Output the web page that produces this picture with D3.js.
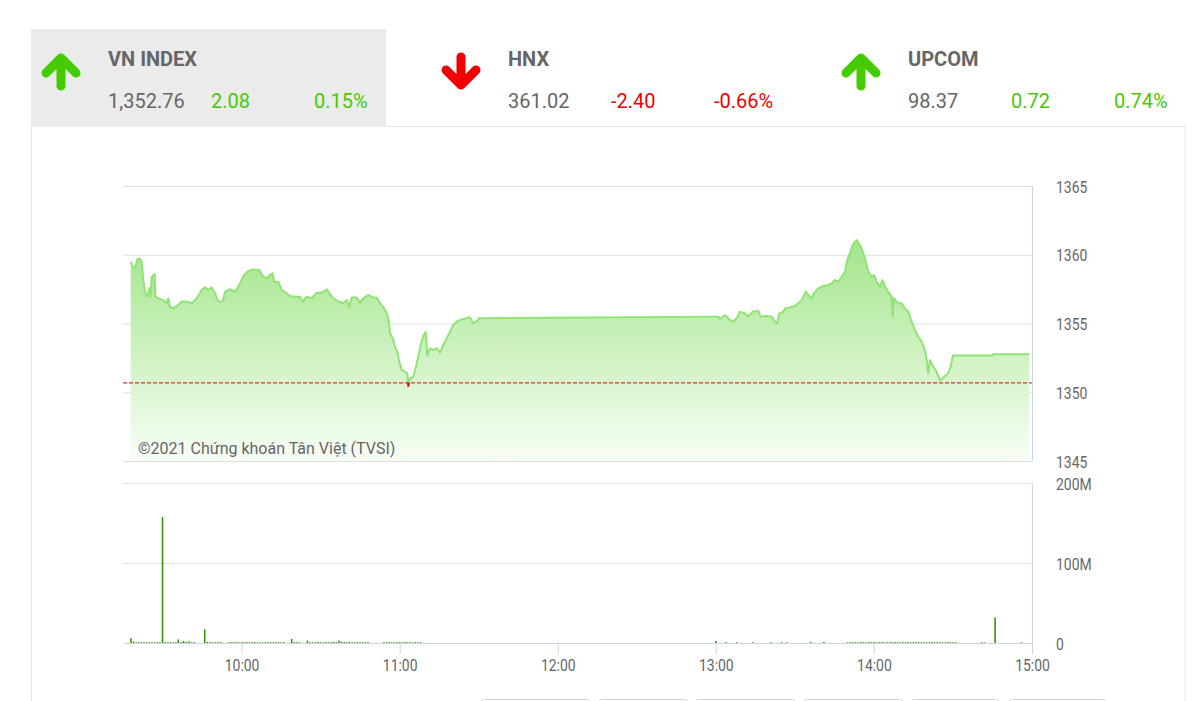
<!DOCTYPE html>
<html><head><meta charset="utf-8">
<script src="https://cdn.jsdelivr.net/npm/d3@7"></script>
<style>
html,body{margin:0;padding:0;background:#fff;}
svg{display:block;font-family:Roboto,"Noto Sans",sans-serif;}
</style></head><body>
<svg id="c" width="1195" height="701"></svg>
<script>
// ---------------- DATA ----------------
const indexNames = ["VN INDEX", "HNX", "UPCOM"];
const indexValues = ["1,352.76", "361.02", "98.37"];
const indexChanges = ["2.08", "-2.40", "0.72"];
const indexPercents = ["0.15%", "-0.66%", "0.74%"];
const indexDirections = ["up", "down", "up"];

const refPrice = 1350.68;
const priceTicks = [1345, 1350, 1355, 1360, 1365];
const volTicks = [0, 100, 200];
const volTickLabels = ["0", "100M", "200M"];
const timeTicks = ["10:00:00", "11:00:00", "12:00:00", "13:00:00", "14:00:00", "15:00:00"];
const watermark = "©2021 Chứng khoán Tân Việt (TVSI)";
const rangeButtons = ["1D", "1W", "1M", "3M", "6M", "1Y"];

const priceTimes = [
"09:17:55","09:18:41","09:19:33","09:20:26","09:21:11","09:22:06","09:22:42","09:23:21","09:24:13","09:24:59",
"09:25:31","09:25:53","09:27:02","09:27:15","09:28:24","09:30:18","09:31:35","09:32:11","09:32:50","09:34:05",
"09:35:59","09:37:17","09:39:10","09:41:04","09:42:58","09:44:52","09:46:07","09:47:22","09:48:40","09:49:55",
"09:51:10","09:52:50","09:53:43","09:55:37","09:57:31","09:58:46","10:00:40","10:02:33","10:04:27","10:06:44",
"10:08:01","10:09:32","10:10:47","10:11:49","10:12:18","10:13:56","10:15:14","10:17:08","10:18:23","10:20:17",
"10:22:10","10:23:12","10:24:43","10:26:37","10:28:31","10:30:25","10:32:19","10:33:50","10:34:49","10:36:43",
"10:38:23","10:39:54","10:40:53","10:41:48","10:43:41","10:44:57","10:46:12","10:48:05","10:49:59","10:51:17",
"10:52:32","10:53:47","10:55:05","10:55:50","10:56:20","10:57:21","10:58:14","10:59:06","10:59:52","11:00:46",
"11:02:01","11:02:54","11:03:17","11:03:55","11:05:10","11:06:12","11:07:04","11:07:59","11:08:58","11:09:53",
"11:10:29","11:11:31","11:12:46","11:14:03","11:15:18","11:16:34","11:17:51","11:19:06","11:20:21","11:21:38",
"11:23:32","11:25:26","11:26:41","11:27:57","11:29:28","11:30:00","13:00:00","13:00:55","13:01:34","13:03:28",
"13:05:22","13:06:37","13:07:55","13:09:10","13:11:04","13:12:19","13:13:59","13:16:07","13:17:01","13:19:18",
"13:21:11","13:22:26","13:23:19","13:24:05","13:25:35","13:26:14","13:28:08","13:30:02","13:31:17","13:32:35",
"13:34:13","13:35:05","13:36:22","13:37:14","13:38:53","13:40:46","13:42:40","13:43:58","13:45:13","13:46:28",
"13:47:46","13:49:01","13:49:53","13:50:54","13:51:56","13:52:48","13:53:27","13:54:26","13:55:20","13:56:13",
"13:57:14","13:57:51","13:59:08","14:00:01","14:01:02","14:02:17","14:03:19","14:04:11","14:05:26","14:06:44",
"14:07:07","14:07:36","14:09:14","14:10:31","14:11:46","14:13:02","14:14:19","14:15:34","14:16:49","14:18:07",
"14:19:22","14:20:01","14:20:37","14:21:16","14:22:31","14:23:48","14:25:04","14:26:05","14:26:57","14:28:13",
"14:29:07","14:30:00","14:45:00","14:45:14","14:59:00"];
const priceValues = [
1359.50,1359.13,1359.00,1359.67,1359.74,1359.50,1358.16,1357.30,1356.95,1357.56,
1356.95,1358.40,1358.60,1356.95,1356.83,1356.70,1356.47,1356.83,1356.20,1356.10,
1356.35,1356.60,1356.60,1356.47,1356.83,1357.44,1357.63,1357.44,1357.63,1357.20,
1356.60,1356.60,1357.31,1357.49,1357.31,1357.68,1358.45,1358.82,1358.94,1358.89,
1358.45,1358.29,1358.53,1358.65,1358.04,1358.04,1357.44,1357.20,1357.00,1356.95,
1356.95,1356.60,1356.95,1356.83,1357.24,1357.24,1357.49,1357.07,1356.83,1356.60,
1356.47,1356.70,1356.20,1356.90,1356.90,1356.50,1356.83,1357.07,1356.90,1356.88,
1356.50,1356.20,1355.74,1355.25,1354.29,1353.92,1353.31,1352.95,1352.22,1351.62,
1351.49,1351.38,1350.45,1351.00,1351.13,1351.86,1352.59,1353.44,1354.09,1354.40,
1352.70,1353.20,1353.07,1353.20,1352.87,1353.44,1353.92,1354.40,1354.89,1355.13,
1355.30,1355.38,1355.45,1355.01,1355.20,1355.38,1355.50,1355.50,1355.31,1355.62,
1355.25,1355.13,1355.38,1355.86,1355.74,1355.50,1355.86,1355.93,1355.50,1355.55,
1355.50,1355.13,1355.01,1355.74,1355.86,1356.10,1356.17,1356.27,1356.47,1356.70,
1357.31,1357.07,1356.83,1357.20,1357.56,1357.73,1357.80,1357.92,1358.16,1358.04,
1358.40,1358.77,1359.62,1360.10,1360.71,1360.95,1361.07,1360.78,1360.47,1359.98,
1359.25,1358.77,1358.40,1358.53,1358.04,1357.68,1358.16,1357.68,1357.31,1356.95,
1355.50,1356.83,1356.47,1356.47,1356.10,1355.86,1355.13,1354.53,1354.04,1353.68,
1353.07,1352.35,1351.38,1352.35,1351.86,1351.49,1350.89,1351.00,1351.18,1351.38,
1351.86,1352.68,1352.68,1352.76,1352.76];

// volume in millions of shares
const volTimes = [
"09:18","09:19","09:20","09:21","09:22","09:23","09:24","09:25","09:26","09:27",
"09:28","09:29","09:30","09:31","09:32","09:33","09:34","09:35","09:36","09:37",
"09:38","09:39","09:40","09:41","09:42","09:46","09:47","09:48","09:49","09:50",
"09:51","09:52","09:55","09:56","09:57","09:58","09:59","10:00","10:01","10:02",
"10:03","10:04","10:05","10:06","10:07","10:08","10:09","10:10","10:11","10:12",
"10:13","10:14","10:15","10:16","10:19","10:20","10:21","10:22","10:25","10:26",
"10:27","10:28","10:29","10:30","10:31","10:32","10:33","10:34","10:35","10:36",
"10:37","10:38","10:39","10:40","10:41","10:42","10:43","10:44","10:45","10:46",
"10:47","10:48","10:54","10:55","10:56","10:57","10:58","10:59","11:00","11:01",
"11:02","11:03","11:04","11:05","11:06","11:07","11:08",
"13:00","13:04","13:08","13:14","13:21","13:25","13:27","13:36","13:41","13:50",
"13:51","13:52","13:53","13:54","13:55","13:56","13:57","13:58","13:59","14:00",
"14:01","14:02","14:03","14:04","14:05","14:06","14:07","14:08","14:09","14:10",
"14:11","14:12","14:13","14:14","14:15","14:16","14:17","14:18","14:19","14:20",
"14:21","14:22","14:23","14:24","14:25","14:26","14:27","14:28","14:29","14:30",
"14:31","14:41","14:42","14:46","14:56"];
const volValues = [
6.0,2.0,1.0,0.9,1.0,0.8,0.9,1.0,0.8,0.9,
1.0,1.2,157.5,1.1,0.9,1.0,0.8,1.0,4.5,1.2,
2.5,1.4,2.0,1.0,1.1,17.0,1.3,1.1,0.9,1.0,
1.2,0.9,0.8,1.0,0.9,1.1,0.8,1.0,0.9,1.2,
0.8,1.0,1.1,0.9,1.0,0.8,1.2,0.9,1.0,0.8,
1.1,1.0,0.9,1.0,5.0,1.2,1.0,0.9,3.0,1.1,
1.0,0.9,1.2,1.0,0.8,1.1,0.9,1.0,1.3,1.0,
3.0,1.5,1.2,1.0,1.4,0.9,1.0,1.2,0.8,1.1,
0.9,1.0,0.9,1.0,1.2,0.8,1.0,1.1,0.9,1.0,
1.2,0.9,1.0,0.8,1.1,1.0,0.9,
2.5,1.0,1.0,1.0,1.0,1.0,1.0,1.5,1.5,1.0,
0.9,1.1,1.0,0.8,1.2,1.0,0.9,1.1,1.0,1.3,
0.9,1.0,1.2,0.8,1.0,1.1,0.9,1.2,1.0,0.8,
1.1,1.0,1.3,0.9,1.0,1.2,1.0,0.8,1.1,1.0,
0.9,1.2,1.0,1.1,0.8,1.0,0.9,1.2,1.0,0.9,
1.0,1.0,0.8,32.0,1.0];

// ---------------- DRAW ----------------
const svg = d3.select("#c");
const GREEN = "#44cc00", RED = "#f00000", GRAY = "#666666";
const AXIS = "#ccd6eb", GRID = "#e0e0e0";
const cond = 0.87; // condensed axis font

// panel
svg.append("rect").attr("x", 31.5).attr("y", 126.5).attr("width", 1153.5).attr("height", 600)
  .attr("fill", "#fff").attr("stroke", "#e6e6e6");

// header tabs
indexNames.forEach((name, i) => {
  const gx = 31 + 400 * i;
  const g = svg.append("g");
  if (i === 0) g.append("rect").attr("x", gx).attr("y", 29).attr("width", 355).attr("height", 98).attr("fill", "#ebebeb");
  const up = indexDirections[i] === "up";
  const col = up ? GREEN : RED;
  const cx = gx + 30;
  const p = up
    ? `M${cx},86 L${cx},60 M${cx-15},73 L${cx},58 L${cx+15},73`
    : `M${cx},57 L${cx},83 M${cx-15},70 L${cx},85 L${cx+15},70`;
  g.append("path").attr("d", p).attr("fill", "none").attr("stroke", col)
    .attr("stroke-width", 9).attr("stroke-linecap", "round").attr("stroke-linejoin", "round");
  g.append("text").attr("x", gx + 77).attr("y", 66).attr("font-size", 20).attr("font-weight", 700)
    .attr("fill", GRAY).text(name);
  g.append("text").attr("x", gx + 77).attr("y", 108).attr("font-size", 20).attr("fill", GRAY).text(indexValues[i]);
  g.append("text").attr("x", gx + 180).attr("y", 108).attr("font-size", 20).attr("fill", col).text(indexChanges[i]);
  g.append("text").attr("x", gx + 283).attr("y", 108).attr("font-size", 20).attr("fill", col).text(indexPercents[i]);
});

const parseT = d3.timeParse("%H:%M:%S");
const parseM = d3.timeParse("%H:%M");
const x = d3.scaleTime().domain([parseT("09:15:00"), parseT("15:00:00")]).range([123, 1032]);
const yP = d3.scaleLinear().domain([1345, 1365]).range([461, 186]);
const yV = d3.scaleLinear().domain([0, 200]).range([643, 483]);

const price = priceTimes.map((t, i) => ({ t: parseT(t), v: priceValues[i] }));
const vol = volTimes.map((t, i) => ({ t: parseM(t), v: volValues[i] }));

// grids
function grid(scale, ticks) {
  const g = svg.append("g").attr("transform", "translate(123,0)")
    .call(d3.axisLeft(scale).tickValues(ticks).tickSize(-(1032 - 123)).tickFormat(""));
  g.select(".domain").remove();
  g.selectAll("line").attr("stroke", GRID);
}
grid(yP, priceTicks);
grid(yV, volTicks);

// gradient
const defs = svg.append("defs");
const grad = defs.append("linearGradient").attr("id", "ag").attr("gradientUnits", "userSpaceOnUse")
  .attr("x1", 0).attr("x2", 0).attr("y1", yP(d3.max(priceValues))).attr("y2", yP(1345));
grad.append("stop").attr("offset", 0).attr("stop-color", "#a3e58b");
grad.append("stop").attr("offset", 1).attr("stop-color", "#f8fef6");
const refY = yP(refPrice);
defs.append("clipPath").attr("id", "above").append("rect").attr("x", 0).attr("y", 0).attr("width", 1195).attr("height", refY);
defs.append("clipPath").attr("id", "below").append("rect").attr("x", 0).attr("y", refY).attr("width", 1195).attr("height", 701 - refY);

// area
svg.append("path").datum(price)
  .attr("d", d3.area().x(d => x(d.t)).y0(yP(1345)).y1(d => yP(d.v)))
  .attr("fill", "url(#ag)");

const lineGen = d3.line().x(d => x(d.t)).y(d => yP(d.v));
svg.append("path").datum(price).attr("d", lineGen).attr("fill", "none")
  .attr("stroke", "#8fe474").attr("stroke-width", 2).attr("stroke-linejoin", "round").attr("clip-path", "url(#above)");
svg.append("path").datum(price).attr("d", lineGen).attr("fill", "none")
  .attr("stroke", RED).attr("stroke-width", 2).attr("stroke-linejoin", "round").attr("clip-path", "url(#below)");

// reference line
svg.append("line").attr("x1", 123).attr("x2", 1032).attr("y1", refY).attr("y2", refY)
  .attr("stroke", "#e00000").attr("stroke-width", 1).attr("stroke-dasharray", "4,2");

// watermark
svg.append("text").attr("x", 138).attr("y", 453.5).attr("font-size", 16).attr("fill", GRAY).text(watermark);

// volume bars
svg.append("g").selectAll("rect").data(vol).join("rect")
  .attr("x", d => x(d.t) - 0.75).attr("width", 1.5)
  .attr("y", d => yV(d.v)).attr("height", d => yV(0) - yV(d.v))
  .attr("fill", "#2e8c00");

// right border lines
[[186, 461], [483, 643]].forEach(([a, b]) => {
  svg.append("line").attr("x1", 1032.5).attr("x2", 1032.5).attr("y1", a).attr("y2", b).attr("stroke", AXIS);
});

// right axes (labels)
function rightAxis(scale, ticks, fmt) {
  const g = svg.append("g").attr("transform", "translate(1032,0)")
    .call(d3.axisRight(scale).tickValues(ticks).tickSize(0).tickPadding(24).tickFormat(fmt));
  g.select(".domain").remove();
  g.selectAll("text").attr("font-size", 16).attr("font-family", "Roboto, sans-serif").attr("fill", GRAY)
    .attr("dy", "0.38em").attr("x", 0).attr("transform", `translate(24,0) scale(${cond},1)`);
}
rightAxis(yP, priceTicks, d3.format("d"));
rightAxis(yV, volTicks, (d, i) => volTickLabels[volTicks.indexOf(d)]);

// x axis
const xg = svg.append("g").attr("transform", "translate(0,643)")
  .call(d3.axisBottom(x).tickValues(timeTicks.map(parseT)).tickSize(11).tickSizeOuter(0)
    .tickPadding(6).tickFormat(d3.timeFormat("%H:%M")));
xg.select(".domain").attr("stroke", AXIS);
xg.selectAll(".tick line").attr("stroke", AXIS);
xg.selectAll("text").attr("font-size", 16).attr("font-family", "Roboto, sans-serif").attr("fill", GRAY)
  .attr("y", 0).attr("transform", `translate(0,17) scale(${cond},1)`).attr("dy", "0.71em");

// range selector buttons (cut off at bottom)
const btnX = [481, 599, 696, 804, 912, 1009];
const btnW = [108, 88, 98, 98, 86, 96];
rangeButtons.forEach((b, i) => {
  svg.append("rect").attr("x", btnX[i] + 0.5).attr("y", 699.5).attr("width", btnW[i]).attr("height", 24)
    .attr("rx", 2).attr("fill", "#fff").attr("stroke", "#d6d6d6");
});
</script>
</body></html>
